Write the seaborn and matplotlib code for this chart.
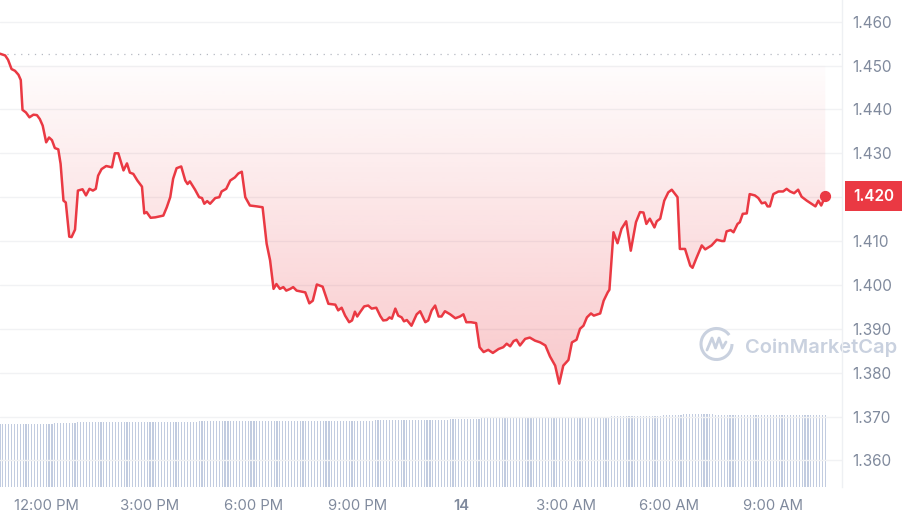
import numpy as np
import pandas as pd
import seaborn as sns
import matplotlib.pyplot as plt
import matplotlib.transforms as mtransforms
from matplotlib.patches import Arc
from matplotlib.lines import Line2D

sns.set_theme(style="white")
plt.rcParams['font.family'] = ['Inter', 'DejaVu Sans']


# DATA  (minutes after 10:40 AM on the 13th)
price_minutes = [
    0, 9, 14, 20, 26, 32, 36, 39, 45, 51, 58, 64, 69, 74, 80, 85, 90, 95, 101, 105,
    110, 114, 120, 124, 130, 135, 143, 149, 155, 161, 166, 170, 176, 184, 194, 199, 205, 214, 220, 225,
    231, 238, 246, 250, 254, 261, 269, 283, 289, 295, 300, 306, 314, 321, 325, 329, 338, 345, 350, 354,
    359, 364, 373, 380, 384, 392, 399, 407, 413, 419, 425, 433, 445, 455, 462, 468, 474, 479, 485, 491,
    496, 503, 508, 514, 529, 536, 542, 549, 559, 569, 581, 586, 592, 598, 605, 610, 615, 619, 624, 631,
    638, 644, 652, 659, 664, 670, 675, 679, 685, 690, 696, 700, 705, 713, 722, 728, 737, 742, 748, 754,
    760, 765, 771, 780, 789, 797, 803, 808, 816, 825, 831, 838, 846, 854, 864, 872, 878, 884, 890, 895,
    901, 910, 918, 927, 936, 945, 953, 962, 969, 976, 985, 991, 999, 1005, 1011, 1017, 1024, 1029, 1040, 1046,
    1053, 1056, 1063, 1070, 1077, 1085, 1093, 1102, 1109, 1115, 1120, 1126, 1134, 1138, 1144, 1151, 1158, 1164, 1174, 1178,
    1187, 1196, 1200, 1207, 1216, 1222, 1233, 1242, 1251, 1255, 1259, 1266, 1271, 1278, 1282, 1287, 1294, 1299, 1308, 1314,
    1320, 1326, 1330, 1334, 1340, 1349, 1357, 1363, 1369, 1376, 1383, 1389, 1398, 1405, 1413, 1418, 1423, 1430,
]
price = [
    1.4527, 1.4523, 1.4513, 1.4492, 1.4488, 1.4479, 1.4467, 1.4399, 1.4393, 1.4382, 1.4388, 1.4387, 1.4378, 1.4363, 1.4325, 1.4336, 1.4330, 1.4312, 1.4309, 1.4276,
    1.4192, 1.4188, 1.4110, 1.4109, 1.4126, 1.4215, 1.4218, 1.4204, 1.4219, 1.4215, 1.4219, 1.4249, 1.4264, 1.4271, 1.4268, 1.4300, 1.4300, 1.4261, 1.4277, 1.4256,
    1.4253, 1.4238, 1.4224, 1.4163, 1.4166, 1.4153, 1.4154, 1.4158, 1.4177, 1.4200, 1.4242, 1.4266, 1.4270, 1.4238, 1.4230, 1.4236, 1.4217, 1.4200, 1.4198, 1.4185,
    1.4191, 1.4185, 1.4198, 1.4200, 1.4213, 1.4219, 1.4238, 1.4245, 1.4254, 1.4258, 1.4200, 1.4181, 1.4179, 1.4177, 1.4094, 1.4056, 1.3991, 1.4002, 1.3991, 1.3995,
    1.3987, 1.3991, 1.3995, 1.3987, 1.3983, 1.3958, 1.3964, 1.4001, 1.3996, 1.3957, 1.3955, 1.3942, 1.3948, 1.3930, 1.3915, 1.3919, 1.3939, 1.3928, 1.3938, 1.3951,
    1.3953, 1.3946, 1.3948, 1.3929, 1.3919, 1.3920, 1.3926, 1.3923, 1.3946, 1.3930, 1.3926, 1.3917, 1.3920, 1.3907, 1.3933, 1.3940, 1.3915, 1.3919, 1.3942, 1.3953,
    1.3928, 1.3928, 1.3940, 1.3933, 1.3924, 1.3928, 1.3933, 1.3915, 1.3915, 1.3913, 1.3858, 1.3847, 1.3852, 1.3845, 1.3854, 1.3858, 1.3866, 1.3860, 1.3872, 1.3875,
    1.3862, 1.3877, 1.3880, 1.3873, 1.3869, 1.3862, 1.3837, 1.3816, 1.3775, 1.3816, 1.3829, 1.3869, 1.3875, 1.3900, 1.3907, 1.3926, 1.3935, 1.3930, 1.3935, 1.3964,
    1.3983, 1.3989, 1.4120, 1.4095, 1.4128, 1.4145, 1.4078, 1.4143, 1.4166, 1.4165, 1.4139, 1.4151, 1.4131, 1.4145, 1.4151, 1.4192, 1.4211, 1.4217, 1.4200, 1.4082,
    1.4082, 1.4044, 1.4039, 1.4062, 1.4090, 1.4081, 1.4090, 1.4103, 1.4100, 1.4100, 1.4122, 1.4125, 1.4120, 1.4139, 1.4143, 1.4162, 1.4163, 1.4207, 1.4204, 1.4198,
    1.4186, 1.4188, 1.4179, 1.4179, 1.4207, 1.4213, 1.4213, 1.4219, 1.4213, 1.4209, 1.4217, 1.4201, 1.4192, 1.4186, 1.4179, 1.4192, 1.4181, 1.4202,
]

# 24h volume (millions), one bar every 5 minutes
volume = [
    63.0, 63.0, 63.0, 63.0, 63.0, 63.0, 63.0, 63.0, 63.0,
    63.3, 63.3, 63.3, 63.3, 63.3, 63.3, 63.3, 63.3, 63.3, 63.3,
    64.0, 64.0, 64.0, 64.0, 64.0, 64.0, 64.0, 64.0,
    64.6, 64.6, 64.6, 64.6, 64.6, 64.6, 64.6, 64.6, 64.6, 64.6, 64.6, 64.6, 64.6,
    65.3, 65.3, 65.3, 65.3, 65.3, 65.3, 65.3, 65.3, 65.3, 65.3, 65.3, 65.3, 65.3, 65.3, 65.3,
    65.3, 65.3, 65.3, 65.3, 65.3, 65.3, 65.3, 65.3, 65.3, 65.3, 65.3, 65.3, 65.3, 65.3,
    65.7, 65.7, 65.7, 65.7, 65.7, 65.7, 65.7, 65.7, 65.7, 65.7, 65.7, 65.7, 65.7, 65.7, 65.7, 65.7,
    66.3, 66.3, 66.3, 66.3, 66.3, 66.3, 66.3, 66.3, 66.3, 66.3, 66.3, 66.3, 66.3, 66.3, 66.3,
    66.3, 66.3, 66.3, 66.3, 66.3, 66.3, 66.3, 66.3, 66.3, 66.3, 66.3, 66.3, 66.3, 66.3, 66.3,
    66.3, 66.3, 66.3, 66.3, 66.3, 66.3, 66.3, 66.3, 66.3, 66.3, 66.3, 66.3, 66.3, 66.3, 66.3,
    67.3, 67.3, 67.3, 67.3, 67.3, 67.3, 67.3, 67.3, 67.3, 67.3, 67.3, 67.3, 67.3,
    67.3, 67.3, 67.3, 67.3, 67.3, 67.3, 67.3, 67.3, 67.3, 67.3, 67.3, 67.3, 67.3,
    68.0, 68.0, 68.0, 68.0, 68.0, 68.0, 68.0, 68.0, 68.0, 68.0, 68.0,
    68.6, 68.6, 68.6, 68.6, 68.6, 68.6, 68.6, 68.6, 68.6, 68.6, 68.6, 68.6, 68.6, 68.6, 68.6,
    69.6, 69.6, 69.6, 69.6, 69.6, 69.6, 69.6, 69.6, 69.6, 69.6, 69.6,
    69.6, 69.6, 69.6, 69.6, 69.6, 69.6, 69.6, 69.6, 69.6, 69.6,
    70.0, 70.0, 70.0, 70.0, 70.0, 70.0, 70.0, 70.0, 70.0,
    71.3, 71.3, 71.3, 71.3, 71.3, 71.3, 71.3, 71.3, 71.3, 71.3, 71.3, 71.3, 71.3, 71.3, 71.3, 71.3, 71.3, 71.3,
    72.0, 72.0, 72.0, 72.0, 72.0, 72.0, 72.0,
    72.6, 72.6, 72.6, 72.6, 72.6, 72.6, 72.6, 72.6, 72.6, 72.6, 72.6,
    71.6, 71.6, 71.6, 71.6, 71.6, 71.6, 71.6, 71.6, 71.6, 71.6, 71.6, 71.6, 71.6,
    71.6, 71.6, 71.6, 71.6, 71.6, 71.6, 71.6, 71.6, 71.6, 71.6, 71.6, 71.6, 71.6,
    71.6, 71.6, 71.6, 71.6, 71.6, 71.6, 71.6, 71.6, 71.6, 71.6, 71.6, 71.6, 71.6,
]
volume_minutes = np.arange(len(volume)) * 5

x_ticks = [80, 260, 440, 620, 800, 980, 1160, 1340]
x_labels = ["12:00 PM", "3:00 PM", "6:00 PM", "9:00 PM", "14", "3:00 AM", "6:00 AM", "9:00 AM"]
y_ticks = [1.36, 1.37, 1.38, 1.39, 1.40, 1.41, 1.42, 1.43, 1.44, 1.45, 1.46]

assert len(price_minutes) == len(price)

RED = "#ea3943"
GREY_TXT = "#808a9d"
FILL_TOP = 1.450
X_MAX = 1459
Y_MIN, Y_MAX = 1.35394, 1.46494


df = pd.DataFrame({"t": price_minutes, "price": price})

fig = plt.figure(figsize=(9.04, 5.22), dpi=100)
fig.patch.set_facecolor("white")
rect = [0, 35 / 522, 842 / 904, 487 / 522]

# volume bars in their own axes, behind the price
ax_vol = fig.add_axes(rect)
ax_vol.bar(volume_minutes, volume, width=2.0, color="#c2cce0", linewidth=0)
ax_vol.set_xlim(0, X_MAX)
ax_vol.set_ylim(0, max(volume) * 487.3 / 72.6)
ax_vol.axis("off")

ax = fig.add_axes(rect)
ax.patch.set_visible(False)

# gradient fill under the price
poly = ax.fill_between(df["t"], np.minimum(df["price"], FILL_TOP), FILL_TOP,
                       color="none", linewidth=0)
alpha = np.linspace(0.36, 0.015, 256)
grad = np.zeros((256, 1, 4))
grad[:, 0, :3] = [234 / 255, 57 / 255, 67 / 255]
grad[:, 0, 3] = alpha
im = ax.imshow(grad, extent=[0, price_minutes[-1], Y_MIN, FILL_TOP],
               aspect="auto", origin="lower", zorder=1)
im.set_clip_path(poly.get_paths()[0], transform=ax.transData)

ax.axhline(price[0], color="#b5b9c2", linestyle=(0, (1, 4.5)), linewidth=0.9, zorder=2)

sns.lineplot(data=df, x="t", y="price", ax=ax, color=RED, linewidth=1.8, zorder=3)
ax.scatter([price_minutes[-1]], [price[-1]], s=50, color=RED, zorder=4)

ax.set_xlim(0, X_MAX)
ax.set_ylim(Y_MIN, Y_MAX)
ax.set_xlabel("")
ax.set_ylabel("")

# the current price tag takes the place of its own tick label
last_lbl = f"{price[-1]:.3f}"
ax.set_yticks(y_ticks)
ax.set_yticklabels(["" if f"{v:.3f}" == last_lbl else f"{v:.3f}" for v in y_ticks])
ax.yaxis.tick_right()
ax.yaxis.grid(True, color="#f1f2f4", linewidth=1)
ax.set_axisbelow(True)
ax.tick_params(axis="y", length=0, pad=7.5, labelsize=11, labelcolor=GREY_TXT)

ax.set_xticks(x_ticks)
ax.set_xticklabels(x_labels)
ax.tick_params(axis="x", length=3, width=0.8, color="#e6e8ec", pad=6,
               labelsize=10.7, labelcolor=GREY_TXT)
for lbl in ax.get_xticklabels():
    if lbl.get_text() == "14":
        lbl.set_fontweight("semibold")

for s in ["top", "left", "bottom"]:
    ax.spines[s].set_visible(False)
ax.spines["right"].set_color("#eef0f3")
ax.spines["right"].set_linewidth(1)

# current price tag
tr = mtransforms.blended_transform_factory(ax.transAxes, ax.transData)
ax.text(1.0374, price[-1], last_lbl, transform=tr, ha="center", va="center",
        color="white", fontsize=11, fontweight="semibold", clip_on=False, zorder=10,
        bbox=dict(boxstyle="square,pad=0.5", facecolor=RED, edgecolor="none"))

# watermark
WM = "#c9d1df"
ax.text(745 / 842, (487.3 - 348) / 487.3, "CoinMarketCap", transform=ax.transAxes,
        ha="left", va="center", fontsize=14.5, fontweight="semibold", color=WM,
        clip_on=False, zorder=0)
logo = fig.dpi_scale_trans
fig.add_artist(Arc((7.165, 1.78), 0.31, 0.31, theta1=35, theta2=360, transform=logo,
                   color=WM, linewidth=2.2))
fig.add_artist(Line2D([7.07, 7.12, 7.155, 7.19, 7.225, 7.26],
                      [1.72, 1.84, 1.74, 1.84, 1.74, 1.80], transform=logo,
                      color=WM, linewidth=2.0, solid_capstyle="round", solid_joinstyle="round"))

fig.savefig("out.png", dpi=100)
